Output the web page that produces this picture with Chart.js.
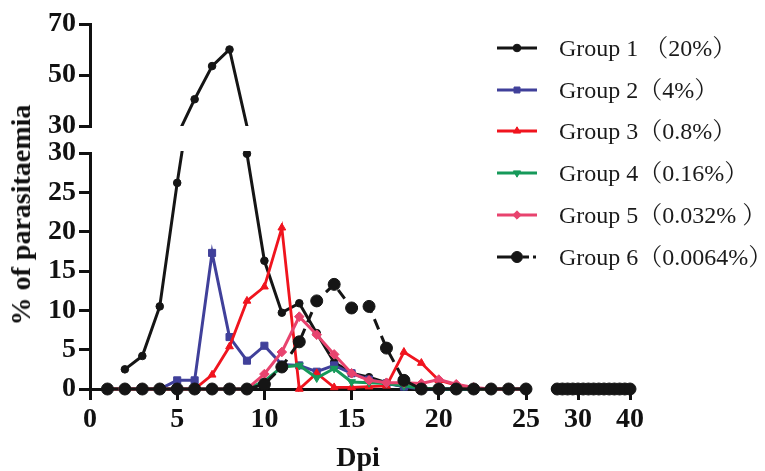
<!DOCTYPE html>
<html><head><meta charset="utf-8">
<script src="https://cdn.jsdelivr.net/npm/chart.js@4.4.1/dist/chart.umd.min.js"></script>
<style>
html,body{margin:0;padding:0;background:#fff;}
#wrap{position:relative;width:765px;height:471px;overflow:hidden;background:#fff;}
#wrap canvas.panel{position:absolute;left:0;top:0;}
.ttl{position:absolute;font-family:"Liberation Serif","Times New Roman",serif;font-weight:bold;color:#111;white-space:nowrap;line-height:1;}
#ytitle{font-size:28px;left:21px;top:215px;transform:translate(-50%,-50%) rotate(-90deg);}
#xtitle{font-size:28px;left:358px;top:457px;transform:translate(-50%,-50%);}
.leg{position:absolute;left:497px;height:30px;display:flex;align-items:center;}
.leg canvas{display:block;}
.leg span{font-family:"Liberation Serif","Noto Serif CJK SC","Noto Sans CJK SC",serif;font-size:24px;color:#1a1a1a;margin-left:18px;white-space:nowrap;line-height:1;}
</style></head>
<body>
<div id="wrap">
  <canvas id="cA" class="panel" width="765" height="471"></canvas>
  <canvas id="cB" class="panel" width="765" height="471"></canvas>
  <canvas id="cC" class="panel" width="765" height="471"></canvas>
  <div id="ytitle" class="ttl">% of parasitaemia</div>
  <div id="xtitle" class="ttl">Dpi</div>
  <div id="legend"></div>
</div>
<script>
// ---------- data ----------
const days = [1,2,3,4,5,6,7,8,9,10,11,12,13,14,15,16,17,18,19,20,21,22,23,24,25];
const tailDays = [26,27,28,29,30,31,32,33,34,35,36,37,38,39,40];
const group1 = [null,2.5,4.2,10.5,26.2,40.5,53.5,60.0,29.9,16.3,9.7,10.9,7.1,3.4,2.0,1.5,0.8,0.3,0,0,0,0,0,0,0];
const group2 = [0,0,0,0,1.1,1.1,17.3,6.6,3.6,5.5,3.1,3.0,2.2,3.0,2.0,1.2,0.7,0.3,0,0,0,0,0,0,0];
const group3 = [0,0,0,0,0,0,1.8,5.4,11.2,13.0,20.5,0,2.0,0.2,0.2,0.3,0.4,4.7,3.3,1.1,0.5,0,0,0,0];
const group4 = [0,0,0,0,0,0,0,0,0,1.0,2.8,3.0,1.4,2.6,0.9,0.8,0.7,0.4,0.1,0,0,0,0,0,0];
const group5 = [0,0,0,0,0,0,0,0,0,1.9,4.7,9.2,6.9,4.4,2.0,1.1,0.8,0.8,0.7,1.2,0.6,0.2,0,0,0];
const group6 = [0,0,0,0,0,0,0,0,0,0.6,2.8,6.0,11.2,13.3,10.3,10.5,5.2,1.1,0,0,0,0,0,0,0];
const tailValues = [0,0,0,0,0,0,0,0,0,0,0,0,0,0,0];
const groupNames = ["Group 1 （20%）","Group 2（4%）","Group 3（0.8%）","Group 4（0.16%）","Group 5（0.032% ）","Group 6（0.0064%）"];
const xTicksMain = [0,5,10,15,20,25];
const xTicksTail = [30,40];
const yTicksLow = [0,5,10,15,20,25,30];
const yTicksHigh = [30,50,70];

// ---------- styles ----------
const series = [group1,group2,group3,group4,group5,group6];
const styles = [
  {color:'#151515', pointStyle:'circle',   radius:3.8, rotation:0,   width:3,   dash:[],     order:6},
  {color:'#40409a', pointStyle:'rect',     radius:5,   rotation:0,   width:3,   dash:[],     order:5},
  {color:'#f0141e', pointStyle:'triangle', radius:4.5, rotation:0,   width:2.8, dash:[],     order:4},
  {color:'#16995a', pointStyle:'triangle', radius:4.5, rotation:180, width:3,   dash:[],     order:3},
  {color:'#e8436e', pointStyle:'rectRot',  radius:4.8, rotation:0,   width:3,   dash:[],     order:2},
  {color:'#151515', pointStyle:'circle',   radius:6,   rotation:0,   width:3,   dash:[11,7], order:1}
];
const FONT = '"Liberation Serif","Times New Roman",serif';

function pts(xs, ys){ return xs.map((x,i)=>({x:x, y:ys[i]})); }

function makeSets(xs, valueLists, clip, yMin, yMax){
  return valueLists.map((vals,i)=>{
    const s = styles[i];
    return {
      label: groupNames[i],
      data: pts(xs, vals),
      borderColor: s.color, backgroundColor: s.color,
      borderWidth: s.width, borderDash: s.dash,
      pointStyle: s.pointStyle, pointRotation: s.rotation,
      pointRadius: c => { const v = c.raw && c.raw.y; return (v === null || v < yMin - 0.2 || v > yMax + 0.2) ? 0 : s.radius; },
      pointBackgroundColor: s.color, pointBorderColor: s.color, pointBorderWidth: 1,
      tension: 0, spanGaps: false, clip: clip, order: s.order
    };
  });
}

function axis(extra, tickVals){
  return Object.assign({
    type:'linear',
    grid:{display:true, drawOnChartArea:false, drawTicks:true, tickLength:11, lineWidth:3, color:'#111'},
    border:{display:true, width:3, color:'#111'},
    ticks:{color:'#111', font:{family:FONT, size:28, weight:'bold'}, padding:3, autoSkip:false, maxRotation:0},
    afterBuildTicks: s => { s.ticks = tickVals.map(v=>({value:v})); }
  }, extra);
}

const base = {
  responsive:false, animation:false, events:[], devicePixelRatio:1,
  plugins:{legend:{display:false}, tooltip:{enabled:false}}
};

// top-left panel (30-70)
new Chart(document.getElementById('cA'), {
  type:'line',
  data:{datasets: makeSets(days, series, {left:8,right:8,top:6,bottom:0}, 30.5, 70)},
  options: Object.assign({}, base, {
    layout:{padding:{left:0, top:24, right:239, bottom:345}},
    scales:{
      x: {type:'linear', min:0, max:25, display:false},
      y: axis({min:30, max:70, afterFit: s=>{ s.width = 90; }}, yTicksHigh)
    }
  })
});

// bottom-left panel (0-30, days 0-25)
new Chart(document.getElementById('cB'), {
  type:'line',
  data:{datasets: makeSets(days, series, {left:8,right:8,top:2,bottom:8}, 0, 30)},
  options: Object.assign({}, base, {
    layout:{padding:{left:0, top:153, right:239, bottom:0}},
    scales:{
      x: axis({min:0, max:25, afterFit: s=>{ s.height = 82; }}, xTicksMain),
      y: axis({min:0, max:30, afterFit: s=>{ s.width = 90; }}, yTicksLow)
    }
  })
});

// bottom-right panel (days 25-40)
new Chart(document.getElementById('cC'), {
  type:'line',
  data:{datasets: makeSets(tailDays, series.map(()=>tailValues), {left:8,right:8,top:2,bottom:8}, 0, 30)},
  options: Object.assign({}, base, {
    layout:{padding:{left:552, top:153, right:135, bottom:0}},
    scales:{
      x: axis({min:25, max:40, afterFit: s=>{ s.height = 82; }}, xTicksTail),
      y: {type:'linear', min:0, max:30, display:false}
    }
  })
});

// ---------- legend ----------
const legendTops = [33,75,116,158,200,242];
const legend = document.getElementById('legend');
groupNames.forEach((name,i)=>{
  const row = document.createElement('div');
  row.className = 'leg';
  row.style.top = legendTops[i] + 'px';
  const cv = document.createElement('canvas');
  cv.width = 44; cv.height = 20;
  row.appendChild(cv);
  const sp = document.createElement('span');
  sp.textContent = name;
  row.appendChild(sp);
  legend.appendChild(row);
  const s = styles[i];
  const ctx = cv.getContext('2d');
  const cy = 10;
  ctx.strokeStyle = s.color; ctx.lineWidth = 3; ctx.setLineDash([]);
  ctx.beginPath();
  if (s.dash.length) {
    ctx.moveTo(0,cy); ctx.lineTo(15,cy);
    ctx.moveTo(26,cy); ctx.lineTo(32,cy);
    ctx.moveTo(36,cy); ctx.lineTo(39,cy);
  } else {
    ctx.moveTo(0,cy); ctx.lineTo(40,cy);
  }
  ctx.stroke();
  ctx.fillStyle = s.color; ctx.lineWidth = 1;
  const r = s.dash.length ? 5.5 : Math.min(s.radius, 4.2);
  try {
    Chart.helpers.drawPoint(ctx, {pointStyle:s.pointStyle, radius:r, rotation:s.rotation, borderWidth:1}, 20, cy);
  } catch(e) {
    ctx.beginPath(); ctx.arc(20,cy,r,0,Math.PI*2); ctx.fill();
  }
});
</script>
</body></html>
